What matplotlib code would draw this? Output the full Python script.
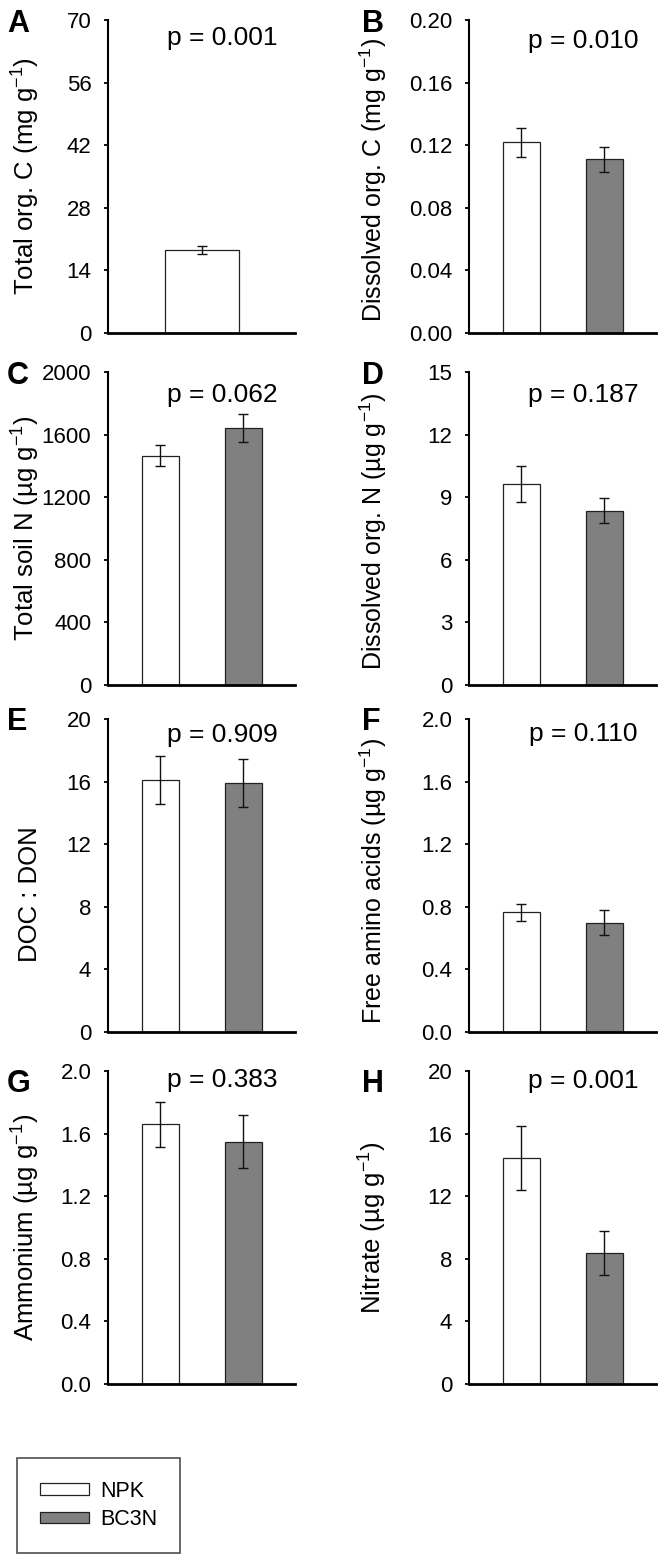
import numpy as np
import matplotlib
matplotlib.use('Agg')
import matplotlib.pyplot as plt
from matplotlib.patches import Patch
from matplotlib.ticker import FormatStrFormatter

plt.rcParams['font.family'] = ['Liberation Sans', 'DejaVu Sans']
plt.rcParams['mathtext.fontset'] = 'custom'
plt.rcParams['mathtext.rm'] = 'Liberation Sans'
plt.rcParams['mathtext.it'] = 'Liberation Sans:italic'

panels = ['A', 'B', 'C', 'D', 'E', 'F', 'G', 'H']
ylabels = [r'Total org. C (mg g$^{\mathregular{-1}}$)',
           r'Dissolved org. C (mg g$^{\mathregular{-1}}$)',
           r'Total soil N (µg g$^{\mathregular{-1}}$)',
           r'Dissolved org. N (µg g$^{\mathregular{-1}}$)',
           'DOC : DON',
           r'Free amino acids (µg g$^{\mathregular{-1}}$)',
           r'Ammonium (µg g$^{\mathregular{-1}}$)',
           r'Nitrate (µg g$^{\mathregular{-1}}$)']
npk_mean = [18.5, 0.122, 1465, 9.63, 16.1, 0.766, 1.66, 14.42]
npk_se = [0.93, 0.0093, 66, 0.845, 1.55, 0.055, 0.143, 2.05]
bc3n_mean = [np.nan, 0.111, 1642, 8.35, 15.92, 0.698, 1.548, 8.36]
bc3n_se = [np.nan, 0.008, 87, 0.59, 1.52, 0.081, 0.17, 1.4]
ymax = [70, 0.20, 2000, 15, 20, 2.0, 2.0, 20]
ystep = [14, 0.04, 400, 3, 4, 0.4, 0.4, 4]
decimals = [0, 2, 0, 0, 0, 1, 1, 0]
p_values = ['0.001', '0.010', '0.062', '0.187', '0.909', '0.110', '0.383', '0.001']
groups = ['NPK', 'BC3N']
colors = ['white', '#808080']

W, H = 663, 1564
fig = plt.figure(figsize=(W / 100, H / 100), dpi=100)

col_left = [108, 469]
row_top = [20, 372, 719, 1071]
ax_w, ax_h = 187, 313
letter_top = [9, 361, 707, 1069]
p_below = [[25, 28], [30, 30], [23, 22], [16, 17]]
label_y = [0.5, 0.49, 0.5, 0.49, 0.44, 0.482, 0.5, 0.5]
label_size = [18.5, 18, 18.5, 18, 18.5, 18, 18.5, 18.5]

for i in range(8):
    r, c = i // 2, i % 2
    x0 = col_left[c]
    y0 = row_top[r]
    ax = fig.add_axes([x0 / W, 1 - (y0 + ax_h) / H, ax_w / W, ax_h / H])

    if np.isnan(bc3n_mean[i]):
        ax.bar([0.5], [npk_mean[i]], width=0.9, color=colors[0],
               edgecolor='#222222', linewidth=0.9, zorder=2)
        ax.errorbar([0.5], [npk_mean[i]], yerr=[npk_se[i]], fmt='none',
                    ecolor='#111111', elinewidth=1, capsize=3.6, capthick=1, zorder=3)
    else:
        ax.bar([0, 1], [npk_mean[i], bc3n_mean[i]], width=0.45, color=colors,
               edgecolor='#222222', linewidth=0.9, zorder=2)
        ax.errorbar([0, 1], [npk_mean[i], bc3n_mean[i]],
                    yerr=[npk_se[i], bc3n_se[i]], fmt='none',
                    ecolor='#111111', elinewidth=1, capsize=3.6, capthick=1, zorder=3)

    ax.set_xlim(-0.63, 1.62)
    ax.set_ylim(0, ymax[i])
    ax.set_yticks(np.arange(0, ymax[i] + ystep[i] / 2, ystep[i]))
    ax.yaxis.set_major_formatter(FormatStrFormatter('%.' + str(decimals[i]) + 'f'))
    ax.set_xticks([])
    ax.spines['top'].set_visible(False)
    ax.spines['right'].set_visible(False)
    ax.spines['left'].set_linewidth(1.5)
    ax.spines['bottom'].set_linewidth(2)
    ax.tick_params(axis='y', direction='out', length=3, width=1.3,
                   pad=9, labelsize=16)

    ax.set_ylabel(ylabels[i], fontsize=label_size[i])
    lab_right = 42 if c == 0 else 389
    ax.yaxis.set_label_coords((lab_right - x0) / ax_w, label_y[i])

    ax.text(0.61, 1 - p_below[r][c] / ax_h, 'p = ' + p_values[i],
            transform=ax.transAxes, ha='center', va='baseline', fontsize=19)

    lx = 7 if c == 0 else 362
    fig.text(lx / W, 1 - letter_top[r] / H, panels[i], fontsize=22,
             fontweight='bold', ha='left', va='top')

handles = [Patch(facecolor=colors[k], edgecolor='#222222', linewidth=0.9)
           for k in range(2)]
leg = fig.legend(handles, groups, loc='upper left',
                 bbox_to_anchor=(17 / W, 1 - 1458 / H), fontsize=15.5,
                 frameon=True, fancybox=False, edgecolor='#222222',
                 borderpad=1.05, handlelength=2.3, handleheight=0.45,
                 handletextpad=0.5, labelspacing=0.35, borderaxespad=0)
leg.get_frame().set_linewidth(1.2)

fig.savefig('out.png', dpi=100)
